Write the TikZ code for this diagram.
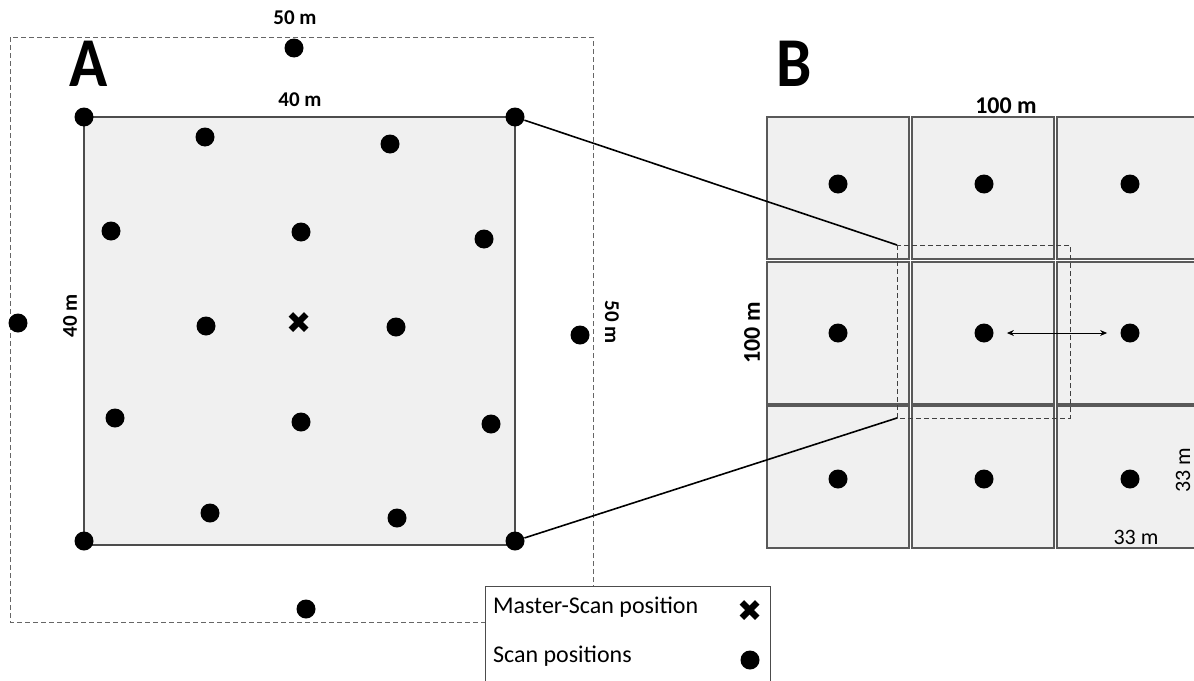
\documentclass[tikz,border=0pt]{standalone}
\usepackage{fontspec}
\setmainfont{Carlito}
\newfontfamily\symfont{DejaVu Sans}
\usetikzlibrary{arrows.meta,positioning}
\tikzset{
	scan/.style={circle, fill=black, inner sep=0pt, minimum size=9.5pt},
	master/.style={inner sep=0pt, font={\symfont\fontsize{15}{15}\selectfont}},
	plot/.style={draw=black!70, fill=black!6, line width=0.6pt},
	cell/.style={draw=black!65, fill=black!6, line width=0.6pt},
	frame/.style={draw=black!60, dash pattern=on 2.5pt off 1.5pt, line width=0.5pt},
	zoombox/.style={draw=black!75, dash pattern=on 2.5pt off 1.5pt, line width=0.5pt},
	lbl/.style={font={\bfseries\fontsize{10.5}{12}\selectfont}},
	biglbl/.style={font={\bfseries\fontsize{12}{14}\selectfont}},
	dim/.style={font={\fontsize{11}{13}\selectfont}},
	panel/.style={font={\bfseries\fontsize{35}{35}\selectfont}, xscale=0.9},
	legend/.style={font={\fontsize{12}{14}\selectfont}, anchor=west}
}

\begin{document}
\begin{tikzpicture}[x=0.5pt, y=-0.5pt]
	\useasboundingbox (0,0) rectangle (1194,680);

	% panel A: 50 m frame and 40 m plot
	\draw[frame] (10,37) rectangle (593,622);
	\draw[plot] (84,117) rectangle (515,545);
	\node[panel] (pa) at (89,64) {A};
	\node[lbl] (top50) at (295,18) {50 m};
	\node[lbl] (top40) at (300,100) {40 m};
	\node[lbl, rotate=90] (left40) at (70,316) {40 m};
	\node[lbl, rotate=-90] (right50) at (612,322) {50 m};

	% plot corners
	\node[scan] (a-nw) at (84,117) {};
	\node[scan] (a-ne) at (515,117) {};
	\node[scan] (a-sw) at (84,541) {};
	\node[scan] (a-se) at (515,541) {};
	% inner scan positions
	\foreach \x/\y [count=\i] in {205/137, 390/144, 111/231, 301/232, 484/239,
		206/326, 396/327, 115/418, 301/422, 491/424, 210/513, 397/518}
		\node[scan] (a-\i) at (\x,\y) {};
	% outer scan positions
	\node[scan] (out-n) at (294,48) {};
	\node[scan] (out-w) at (18,323) {};
	\node[scan] (out-e) at (580,335) {};
	\node[scan] (out-s) at (306,609) {};
	\node[master] (ms) at (299,323) {✖};

	% panel B: 3x3 grid of 33 m cells
	\node[panel] (pb) at (794,64) {B};
	\foreach \r/\ty in {1/117, 2/262, 3/406}
		\foreach \c/\lx in {1/767, 2/912, 3/1057}
			\draw[cell] (\lx,\ty) rectangle ++(142,142);
	\foreach \r/\y in {1/184, 2/333, 3/479}
		\foreach \c/\x in {1/838, 2/984, 3/1130}
			\node[scan] (b-\r\c) at (\x,\y) {};
	\node[biglbl] (top100) at (1006,106) {100 m};
	\node[biglbl, rotate=90] (left100) at (752,333) {100 m};
	\node[dim] (bot33) at (1136,537) {33 m};
	\node[dim, rotate=90] (right33) at (1183,470) {33 m};

	\draw[{Stealth[length=3.5pt,width=3pt]}-{Stealth[length=3.5pt,width=3pt]},
		line width=0.5pt, shorten <=6.5pt, shorten >=6.5pt] (b-22) -- (b-23);

	% zoomed area
	\coordinate (zoom-nw) at (897,245);
	\coordinate (zoom-se) at (1070,418);
	\coordinate (zoom-sw) at (897,418);
	\draw[zoombox] (zoom-nw) rectangle (zoom-se);
	\draw[line width=0.8pt] (a-ne) -- (zoom-nw);
	\draw[line width=0.8pt] (a-se) -- (zoom-sw);

	% legend
	\draw[draw=black!70, fill=white, line width=0.5pt] (485,586) rectangle (770,700);
	\node[legend] (l-master) at (486,607) {Master-Scan position};
	\node[master] (l-cross) at (750,611) {✖};
	\node[legend] (l-scan) at (486,656) {Scan positions};
	\node[scan] (l-dot) at (750,660) {};
\end{tikzpicture}
\end{document}
